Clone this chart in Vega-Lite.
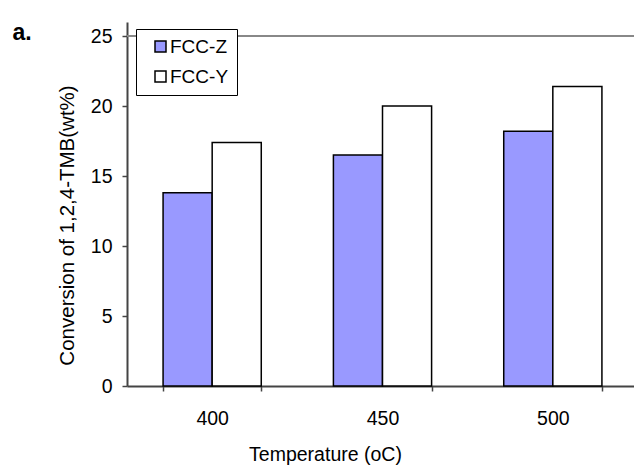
{
  "$schema": "https://vega.github.io/schema/vega-lite/v6.json",
  "autosize": {"type": "none"},
  "width": 507,
  "height": 364,
  "padding": {"left": 127, "top": 22, "right": 0, "bottom": 82},
  "background": "white",
  "data": {
    "values": [
      {"temp": "400", "series": "FCC-Z", "value": 13.8},
      {"temp": "400", "series": "FCC-Y", "value": 17.4},
      {"temp": "450", "series": "FCC-Z", "value": 16.5},
      {"temp": "450", "series": "FCC-Y", "value": 20.0},
      {"temp": "500", "series": "FCC-Z", "value": 18.2},
      {"temp": "500", "series": "FCC-Y", "value": 21.4}
    ]
  },
  "resolve": {"axis": {"y": "independent"}},
  "layer": [
    {
      "mark": {"type": "rule", "color": "#888888", "strokeWidth": 1.5},
      "encoding": {
        "y": {
          "datum": 25,
          "type": "quantitative",
          "axis": {
            "orient": "right",
            "domain": false,
            "ticks": false,
            "labels": false,
            "grid": false,
            "title": "a.",
            "titleAngle": 0,
            "titleAlign": "left",
            "titleBaseline": "alphabetic",
            "titleX": -622,
            "titleY": 17,
            "titleFontSize": 23,
            "titleFontWeight": "bold"
          }
        }
      }
    },
    {
      "mark": {"type": "bar", "stroke": "black", "strokeWidth": 1.5},
      "encoding": {
        "x": {
          "field": "temp",
          "type": "nominal",
          "scale": {"range": [0, 511], "paddingInner": 0.4235, "paddingOuter": 0.2118},
          "axis": {
            "title": "Temperature (oC)",
            "labelAngle": 0,
            "tickBand": "extent",
            "tickSize": 5,
            "labelPadding": 18,
            "titlePadding": 18,
            "titleX": 198
          }
        },
        "xOffset": {"field": "series", "type": "nominal", "sort": ["FCC-Z", "FCC-Y"], "scale": {"paddingInner": 0, "paddingOuter": 0}},
        "y": {
          "field": "value",
          "type": "quantitative",
          "scale": {"domain": [0, 25]},
          "axis": {
            "title": "Conversion of 1,2,4-TMB(wt%)",
            "titleFontSize": 20.5,
            "values": [0, 5, 10, 15, 20, 25],
            "grid": false,
            "tickSize": 5,
            "labelPadding": 10,
            "titlePadding": 13,
            "titleY": 203
          }
        },
        "fill": {
          "field": "series",
          "type": "nominal",
          "sort": ["FCC-Z", "FCC-Y"],
          "scale": {"domain": ["FCC-Z", "FCC-Y"], "range": ["#9999FF", "#FFFFFF"]},
          "legend": {
            "title": null,
            "orient": "none",
            "legendX": 9,
            "legendY": 7,
            "padding": 8,
            "symbolOffset": 7,
            "symbolType": "square",
            "symbolSize": 121,
            "symbolStrokeColor": "black",
            "symbolStrokeWidth": 1.5,
            "labelFontSize": 19,
            "labelFont": "Liberation Sans",
            "labelColor": "black",
            "labelOffset": 0,
            "rowPadding": 10,
            "strokeColor": "black",
            "fillColor": "white"
          }
        }
      }
    }
  ],
  "config": {
    "view": {"stroke": null},
    "font": "Liberation Sans",
    "axis": {
      "labelFont": "Liberation Sans",
      "titleFont": "Liberation Sans",
      "labelFontSize": 19.5,
      "titleFontSize": 19.5,
      "titleFontWeight": "normal",
      "labelColor": "black",
      "titleColor": "black",
      "domainColor": "#444444",
      "domainWidth": 2,
      "tickColor": "#444444",
      "tickWidth": 1.5
    }
  }
}
